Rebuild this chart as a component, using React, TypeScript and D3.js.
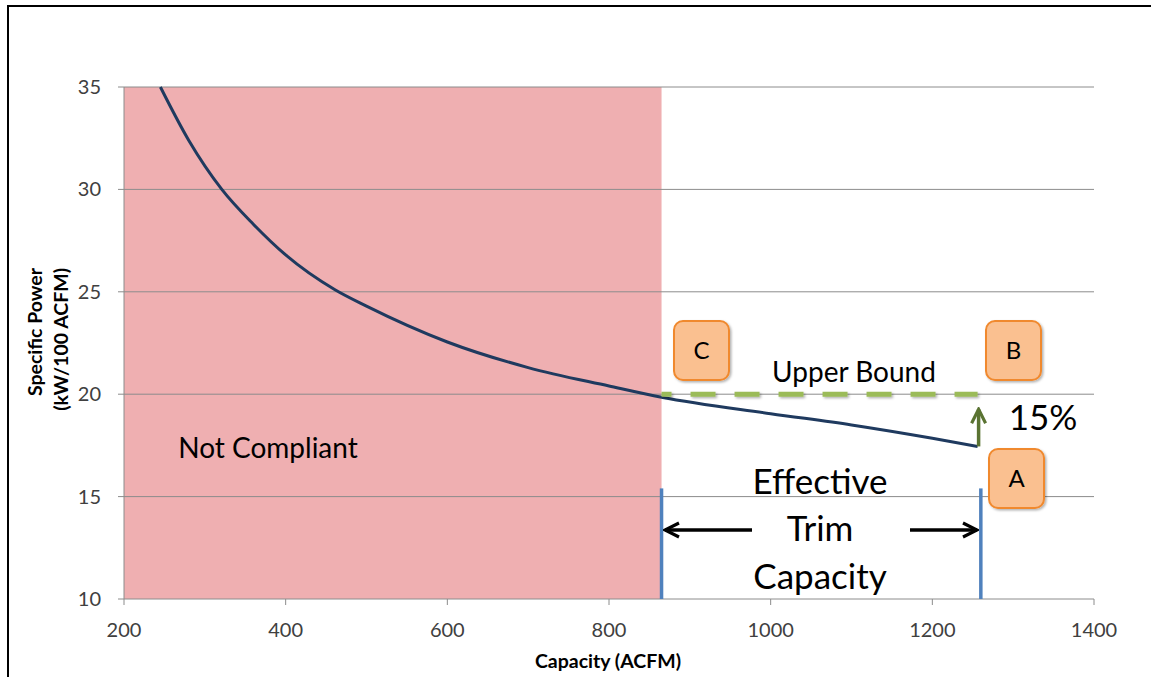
import React from "react";
import * as d3 from "d3";

const xTicks = [200, 400, 600, 800, 1000, 1200, 1400];
const yTicks = [10, 15, 20, 25, 30, 35];
const curveCapacity = [245, 280, 321, 360, 400, 461, 500, 600, 700, 800, 865, 1000, 1100, 1200, 1256];
const curveValue = [35, 32.4, 30, 28.3, 26.8, 25.1, 24.3, 22.55, 21.3, 20.4, 19.85, 19.05, 18.5, 17.85, 17.45];
const nonCompliantRange = [200, 865];
const upperBound = 20;
const trimRange = [865, 1260];
const trimBottom = 15.4;
const pointA = { cap: 1256, val: 17.45 };
const boxLabels = ["C", "B", "A"];

const W = 1151;
const H = 677;
const FONT = "Lato, 'Open Sans', sans-serif";

export default function App() {
  const x = d3.scaleLinear().domain([200, 1400]).range([124, 1094]);
  const y = d3.scaleLinear().domain([10, 35]).range([599, 87]);
  const pts: [number, number][] = curveCapacity.map((c, i) => [c, curveValue[i]]);
  const line = d3
    .line<[number, number]>()
    .x((d) => x(d[0]))
    .y((d) => y(d[1]))
    .curve(d3.curveMonotoneX);

  const boxPos = [
    { x0: 674, y0: 321 },
    { x0: 986, y0: 321 },
    { x0: 989, y0: 449 },
  ];

  const xL = x(trimRange[0]);
  const xR = x(trimRange[1]);
  const arrowY = 530;

  return (
    <svg
      width={W}
      height={H}
      style={{ position: "absolute", left: 0, top: 0, background: "#fff" }}
      fontFamily={FONT}
    >
      <defs>
        <filter id="sh" x="-20%" y="-20%" width="150%" height="150%">
          <feDropShadow dx="1.5" dy="1.5" stdDeviation="1.2" floodColor="#000" floodOpacity="0.3" />
        </filter>
        <filter id="shU" filterUnits="userSpaceOnUse" x={0} y={0} width={W} height={H}>
          <feDropShadow dx="1.5" dy="1.5" stdDeviation="1.2" floodColor="#000" floodOpacity="0.3" />
        </filter>
        <marker id="ahBlack" viewBox="0 0 10 10" refX="9" refY="5" markerWidth="5" markerHeight="5" orient="auto-start-reverse" markerUnits="strokeWidth">
          <path d="M1,1 L9,5 L1,9" fill="none" stroke="#000" strokeWidth="1.8" strokeLinejoin="miter" />
        </marker>
        <marker id="ahGreen" viewBox="0 0 10 10" refX="9" refY="5" markerWidth="5" markerHeight="5" orient="auto" markerUnits="strokeWidth">
          <path d="M1,1 L9,5 L1,9" fill="none" stroke="#5a7332" strokeWidth="1.8" />
        </marker>
      </defs>

      {/* outer frame */}
      <line x1={8} y1={6} x2={W} y2={6} stroke="#000" strokeWidth={2} />
      <line x1={8} y1={5} x2={8} y2={H} stroke="#000" strokeWidth={2} />

      {/* non-compliant region */}
      <rect
        x={x(nonCompliantRange[0])}
        y={y(35)}
        width={x(nonCompliantRange[1]) - x(nonCompliantRange[0])}
        height={y(10) - y(35)}
        fill="#efafb1"
      />

      {/* gridlines */}
      {yTicks.slice(1).map((t) => (
        <line key={t} x1={x(200)} x2={x(1400)} y1={y(t)} y2={y(t)} stroke="#8c8c8c" strokeWidth={1} />
      ))}
      {/* axes */}
      <line x1={x(200)} x2={x(1400)} y1={y(10)} y2={y(10)} stroke="#8c8c8c" strokeWidth={1} />
      <line x1={x(200)} x2={x(200)} y1={y(35)} y2={y(10)} stroke="#8c8c8c" strokeWidth={1} />
      {yTicks.map((t) => (
        <g key={t}>
          <line x1={x(200) - 6} x2={x(200)} y1={y(t)} y2={y(t)} stroke="#8c8c8c" />
          <text x={101} y={y(t)} dy="0.35em" textAnchor="end" fontSize={20} fill="#404040">
            {t}
          </text>
        </g>
      ))}
      {xTicks.map((t) => (
        <g key={t}>
          <line x1={x(t)} x2={x(t)} y1={y(10)} y2={y(10) + 6} stroke="#8c8c8c" />
          <text x={x(t)} y={637} textAnchor="middle" fontSize={20} fill="#404040">
            {t}
          </text>
        </g>
      ))}
      <text x={608} y={668} textAnchor="middle" fontSize={19.5} fontWeight="bold" fill="#000">
        Capacity (ACFM)
      </text>
      <g transform="translate(42,268) rotate(-90)">
        <text x={0} y={0} textAnchor="end" fontSize={19.5} fontWeight="bold">
          Specific Power
        </text>
        <text x={0} y={26} textAnchor="end" fontSize={19.5} fontWeight="bold">
          (kW/100 ACFM)
        </text>
      </g>

      {/* curve */}
      <path d={line(pts) || ""} fill="none" stroke="#1f3a5f" strokeWidth={3} />

      {/* upper bound dashed */}
      <line
        x1={x(trimRange[0])}
        x2={x(pointA.cap)}
        y1={y(upperBound)}
        y2={y(upperBound)}
        stroke="#9bbb59"
        strokeWidth={5}
        strokeDasharray="25 19"
        strokeDashoffset={15}
        filter="url(#shU)"
      />

      {/* trim bounds */}
      <line x1={xL} x2={xL} y1={y(trimBottom)} y2={y(10)} stroke="#4f81bd" strokeWidth={3.5} />
      <line x1={xR} x2={xR} y1={y(trimBottom)} y2={y(10)} stroke="#4f81bd" strokeWidth={3.5} />

      {/* arrows */}
      <line x1={752} x2={665} y1={arrowY} y2={arrowY} stroke="#000" strokeWidth={3.5} markerEnd="url(#ahBlack)" />
      <line x1={910} x2={977} y1={arrowY} y2={arrowY} stroke="#000" strokeWidth={3.5} markerEnd="url(#ahBlack)" />

      {/* 15% arrow */}
      <line x1={x(pointA.cap) + 1} x2={x(pointA.cap) + 1} y1={y(pointA.val)} y2={y(upperBound) + 15} stroke="#5a7332" strokeWidth={3.5} markerEnd="url(#ahGreen)" />

      {/* texts */}
      <text x={820} y={494} textAnchor="middle" fontSize={35} fill="#000">Effective</text>
      <text x={820} y={541} textAnchor="middle" fontSize={35} fill="#000">Trim</text>
      <text x={820} y={589} textAnchor="middle" fontSize={35} fill="#000">Capacity</text>
      <text x={1043} y={430} textAnchor="middle" fontSize={35} fill="#000">15%</text>
      <text x={854} y={382} textAnchor="middle" fontSize={28} fill="#000">Upper Bound</text>
      <text x={268} y={458} textAnchor="middle" fontSize={28} fill="#000">Not Compliant</text>

      {/* boxes */}
      {boxLabels.map((label, i) => (
        <g key={label}>
          <rect x={boxPos[i].x0} y={boxPos[i].y0} width={55} height={59} rx={9} fill="#fac090" stroke="#f0892e" strokeWidth={2} filter="url(#sh)" />
          <text x={boxPos[i].x0 + 27.5} y={boxPos[i].y0 + 30} dy="0.35em" textAnchor="middle" fontSize={24} fill="#000">
            {label}
          </text>
        </g>
      ))}
    </svg>
  );
}
